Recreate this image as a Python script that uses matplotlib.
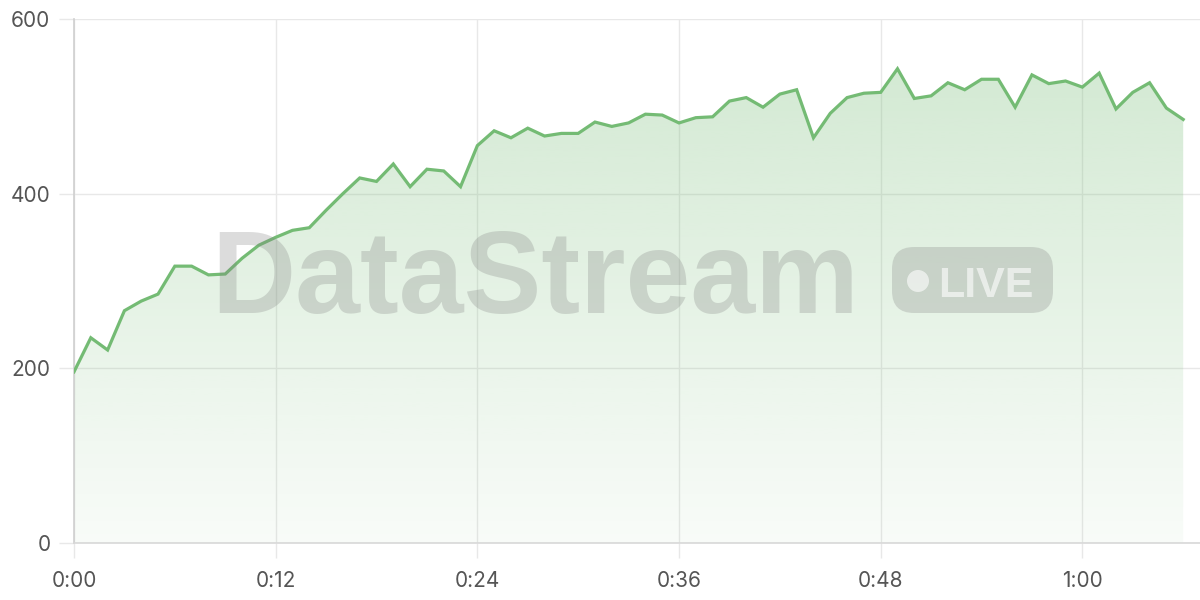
#!/usr/bin/env python3

import numpy as np
import matplotlib
matplotlib.use('Agg')
import matplotlib.pyplot as plt
from matplotlib.patches import FancyBboxPatch, Circle

plt.rcParams['font.family'] = ['Inter', 'DejaVu Sans']

# minutes since start, one point per minute
minutes = list(range(67))
values = [
    196, 235, 221, 266, 277, 285, 317, 317, 307, 308,
    326, 341, 350, 358, 361, 381, 400, 418, 414, 434,
    408, 428, 426, 408, 455, 472, 464, 475, 466, 469,
    469, 482, 477, 481, 491, 490, 481, 487, 488, 506,
    510, 499, 514, 519, 464, 492, 510, 515, 516, 543,
    509, 512, 527, 519, 531, 531, 499, 536, 526, 529,
    522, 538, 497, 516, 527, 498, 485,
]
tick_minutes = [0, 12, 24, 36, 48, 60]
tick_labels = ['0:00', '0:12', '0:24', '0:36', '0:48', '1:00']
y_ticks = [0, 200, 400, 600]

line_color = '#74bb74'
label_color = '#555555'
grid_color = '#e8e8e8'


def main():
    fig = plt.figure(figsize=(12, 6), dpi=100)
    ax = fig.add_axes([74/1200, 57/600, 1126/1200, 524/600])

    ax.set_xlim(0, 67)
    ax.set_ylim(0, 600)

    draw_gradient_fill(ax, minutes, values)
    ax.plot(minutes, values, color=line_color, lw=2.3, zorder=5,
            solid_joinstyle='miter')

    style_axes(ax)
    draw_watermark(fig)

    fig.savefig('out.png', dpi=100)


def draw_gradient_fill(ax, xs, ys):
    poly = ax.fill_between(xs, ys, 0, color='none', lw=0)
    path = poly.get_paths()[0]

    n = 256
    alpha = np.linspace(0.05, 0.36, n)[::-1]
    rgb = np.array(matplotlib.colors.to_rgb('#7cbf7c'))
    img = np.zeros((n, 1, 4))
    img[:, 0, :3] = rgb
    img[:, 0, 3] = alpha

    im = ax.imshow(img, aspect='auto', extent=[0, max(xs), 0, 600],
                   origin='upper', zorder=1, interpolation='bilinear')
    im.set_clip_path(path, transform=ax.transData)


def style_axes(ax):
    ax.set_xticks(tick_minutes)
    ax.set_xticklabels(tick_labels)
    ax.set_yticks(y_ticks)

    ax.grid(True, color=grid_color, lw=1, zorder=0)
    ax.set_axisbelow(True)

    for side in ('top', 'right'):
        ax.spines[side].set_visible(False)
    ax.spines['left'].set_color('#cfcfcf')
    ax.spines['left'].set_linewidth(1.2)
    ax.spines['bottom'].set_color('#d8d8d8')
    ax.spines['bottom'].set_linewidth(1.2)

    ax.tick_params(axis='both', colors=grid_color, labelcolor=label_color,
                   labelsize=15, length=11, width=1)
    ax.tick_params(axis='y', pad=6)
    ax.tick_params(axis='x', pad=9)


def draw_watermark(fig):
    # overlay in pixel units, y pointing down
    wm = fig.add_axes([0, 0, 1, 1], zorder=3)
    wm.set_xlim(0, 1200)
    wm.set_ylim(600, 0)
    wm.axis('off')
    wm.patch.set_alpha(0)

    gray = '#808080'
    wm.text(211, 313, 'DataStream',
            family=['Liberation Sans', 'DejaVu Sans'], weight='bold',
            fontsize=84, color=gray, alpha=0.27,
            ha='left', va='baseline')

    box = FancyBboxPatch((892, 247), 161, 66,
                         boxstyle='round,pad=0,rounding_size=22',
                         facecolor=gray, edgecolor='none', alpha=0.27)
    wm.add_patch(box)

    wm.add_patch(Circle((918, 281), 11, facecolor='white',
                        edgecolor='none', alpha=0.6))

    wm.text(938, 297, 'LIVE',
            family=['Liberation Sans', 'DejaVu Sans'], weight='bold',
            fontsize=31, color='white', alpha=0.6,
            ha='left', va='baseline')


main()
